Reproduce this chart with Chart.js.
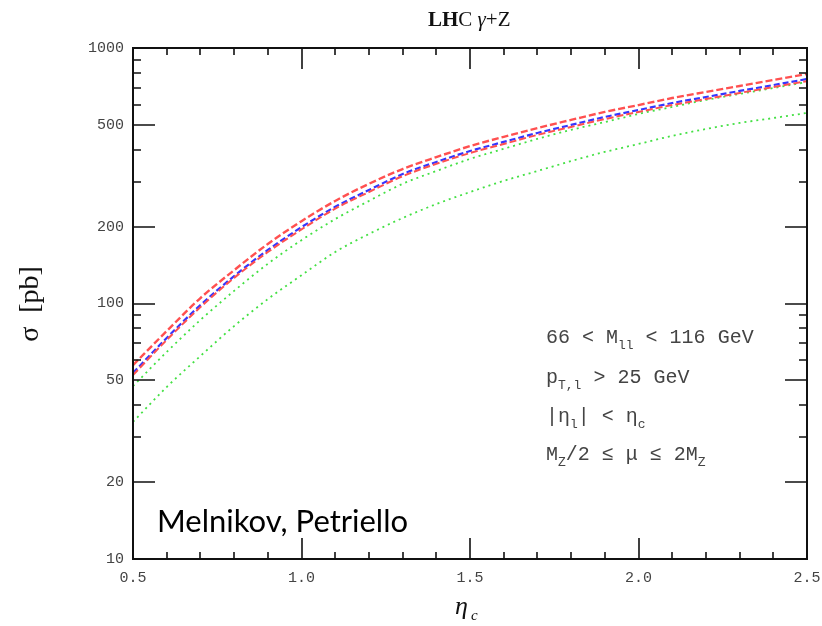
<!DOCTYPE html>
<html>
<head>
<meta charset="utf-8">
<script src="https://cdn.jsdelivr.net/npm/chart.js@4.4.1/dist/chart.umd.min.js"></script>
<style>
html, body { margin: 0; padding: 0; background: #fff; }
#wrap { width: 822px; height: 626px; }
</style>
</head>
<body>
<div id="wrap"><canvas id="grafico" width="822" height="626"></canvas></div>
<script>
// eta_c values (x) and cross sections in pb
const etaC = [0.5, 0.6, 0.7, 0.8, 0.9, 1.0, 1.1, 1.2, 1.3, 1.4, 1.5,
              1.6, 1.7, 1.8, 1.9, 2.0, 2.1, 2.2, 2.3, 2.4, 2.5];
const redUpper = [57.4, 78, 105, 135, 171, 210, 252, 294, 336, 374, 413,
                  449, 486, 523, 562, 598, 637, 673, 710, 750, 791];
const blueCentral = [53.5, 73.3, 98.6, 128, 162, 199, 239, 278, 321, 358, 395,
                     429, 465, 500, 537, 572, 609, 643, 679, 716, 756];
const redLower = [52.5, 72, 96.8, 126, 159, 195, 235, 273, 315, 352, 388,
                  421, 457, 491, 527, 562, 598, 631, 667, 703, 742];
const greenUpper = [47.5, 64.6, 86.2, 112, 143, 177, 214, 252, 294, 330, 368,
                    403, 441, 478, 513, 552, 588, 626, 661, 697, 736];
const greenLower = [34.4, 47.1, 62.3, 81.6, 104, 129, 159, 187, 216, 245, 273,
                    302, 330, 361, 392, 421, 453, 482, 509, 532, 557];

const xTicks = [0.5, 1.0, 1.5, 2.0, 2.5];
const xMinor = [0.6, 0.7, 0.8, 0.9, 1.1, 1.2, 1.3, 1.4, 1.6, 1.7, 1.8, 1.9,
                2.1, 2.2, 2.3, 2.4];
const yTicks = [10, 20, 50, 100, 200, 500, 1000];
const yMinor = [30, 40, 60, 70, 80, 90, 300, 400, 600, 700, 800, 900];

// annotation lines: [text, subscript] pieces
const cutLines = [
    [["66 < M", ""], ["ll", "sub"], [" < 116 GeV", ""]],
    [["p", ""], ["T,l", "sub"], [" > 25 GeV", ""]],
    [["|η", ""], ["l", "sub"], ["| < η", ""], ["c", "sub"]],
    [["M", ""], ["Z", "sub"], ["/2 ≤ μ ≤ 2M", ""], ["Z", "sub"]]
];

const pts = arr => etaC.map((x, i) => ({ x: x, y: arr[i] }));

// draw a line of text with subscripts
function drawPieces(ctx, pieces, x, y, size, family) {
    let cx = x;
    pieces.forEach(p => {
        if (p[1] === "sub") {
            ctx.font = Math.round(size * 0.65) + "px " + family;
            ctx.fillText(p[0], cx, y + size * 0.28);
        } else {
            ctx.font = size + "px " + family;
            ctx.fillText(p[0], cx, y);
        }
        cx += ctx.measureText(p[0]).width;
    });
}

const moldura = {
    id: "moldura",
    afterDraw(chart) {
        const ctx = chart.ctx;
        const a = chart.chartArea;
        const sx = chart.scales.x;
        const sy = chart.scales.y;
        ctx.save();
        ctx.strokeStyle = "#111";
        ctx.lineWidth = 2;
        ctx.strokeRect(a.left, a.top, a.right - a.left, a.bottom - a.top);

        ctx.lineWidth = 1.6;
        ctx.beginPath();
        xTicks.concat(xMinor).forEach(v => {
            const px = Math.round(sx.getPixelForValue(v));
            const len = xTicks.includes(v) ? 21 : 7;
            ctx.moveTo(px, a.bottom); ctx.lineTo(px, a.bottom - len);
            ctx.moveTo(px, a.top); ctx.lineTo(px, a.top + len);
        });
        yTicks.concat(yMinor).forEach(v => {
            const py = Math.round(sy.getPixelForValue(v));
            const len = yTicks.includes(v) ? 22 : 8;
            ctx.moveTo(a.left, py); ctx.lineTo(a.left + len, py);
            ctx.moveTo(a.right, py); ctx.lineTo(a.right - len, py);
        });
        ctx.stroke();

        // title
        ctx.fillStyle = "#111";
        ctx.textBaseline = "alphabetic";
        ctx.textAlign = "left";
        let tx = 428;
        ctx.font = "bold 21px 'Liberation Serif'";
        ctx.fillText("LH", tx, 26);
        tx += ctx.measureText("LH").width;
        ctx.font = "21px 'Liberation Serif'";
        ctx.fillText("C ", tx, 26);
        tx += ctx.measureText("C ").width;
        ctx.font = "italic 21px 'Liberation Serif'";
        ctx.fillText("γ", tx, 26);
        tx += ctx.measureText("γ").width;
        ctx.font = "21px 'Liberation Serif'";
        ctx.fillText("+Z", tx, 26);

        // x axis title
        ctx.font = "italic 26px 'Liberation Serif'";
        ctx.fillText("η", 455, 614);
        ctx.font = "italic 15px 'Liberation Serif'";
        ctx.fillText("c", 471, 620);

        // y axis title
        ctx.save();
        ctx.translate(38, 304);
        ctx.rotate(-Math.PI / 2);
        ctx.textAlign = "center";
        ctx.font = "28px 'Liberation Serif'";
        ctx.fillText("σ  [pb]", 0, 0);
        ctx.restore();

        // cuts
        ctx.fillStyle = "#444";
        const ys = [343, 383, 422, 460];
        cutLines.forEach((l, i) => drawPieces(ctx, l, 546, ys[i], 20, "'Liberation Mono'"));

        ctx.fillStyle = "#000";
        ctx.font = "31px Lato";
        ctx.fillText("Melnikov, Petriello", 157, 532);
        ctx.restore();
    }
};

const contexto = document.getElementById("grafico").getContext("2d");
const tickFont = { family: "'Liberation Mono'", size: 15 };

new Chart(contexto, {
    type: "line",
    data: {
        datasets: [
            { label: "red upper", data: pts(redUpper), borderColor: "#ff5050", borderWidth: 2.4, borderDash: [7, 3] },
            { label: "red lower", data: pts(redLower), borderColor: "#ff5050", borderWidth: 2, borderDash: [7, 3] },
            { label: "green upper", data: pts(greenUpper), borderColor: "#44e044", borderWidth: 1.8, borderDash: [2, 4] },
            { label: "green lower", data: pts(greenLower), borderColor: "#44e044", borderWidth: 1.8, borderDash: [2, 4] },
            { label: "blue", data: pts(blueCentral), borderColor: "#3535ff", borderWidth: 2.2, borderDash: [6, 3] }
        ]
    },
    options: {
        responsive: false,
        animation: false,
        elements: { point: { radius: 0 }, line: { cubicInterpolationMode: "monotone" } },
        layout: { padding: { left: 0, right: 15, top: 48, bottom: 0 } },
        plugins: { legend: { display: false }, tooltip: { enabled: false } },
        scales: {
            x: {
                type: "linear", min: 0.5, max: 2.5,
                grid: { display: false, drawTicks: false },
                border: { display: false },
                afterBuildTicks: s => { s.ticks = xTicks.map(v => ({ value: v })); },
                afterFit: s => { s.height = 67; s.paddingLeft = 0; s.paddingRight = 0; },
                ticks: {
                    autoSkip: false, maxRotation: 0, padding: 10,
                    color: "#444", font: tickFont,
                    callback: v => Number(v).toFixed(1)
                }
            },
            y: {
                type: "logarithmic", min: 10, max: 1000,
                grid: { display: false, drawTicks: false },
                border: { display: false },
                afterBuildTicks: s => { s.ticks = yTicks.map(v => ({ value: v })); },
                afterFit: s => { s.width = 133; s.paddingTop = 0; s.paddingBottom = 0; },
                ticks: {
                    autoSkip: false, padding: 9,
                    color: "#444", font: tickFont,
                    callback: v => String(v)
                }
            }
        }
    },
    plugins: [moldura]
});
</script>
</body>
</html>
